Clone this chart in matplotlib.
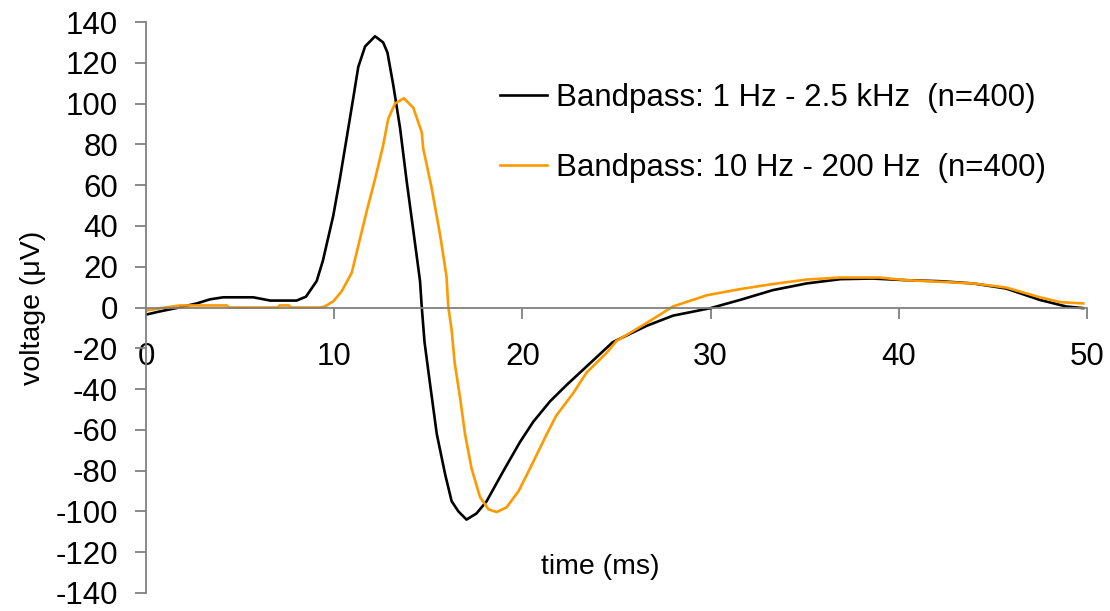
import matplotlib
matplotlib.use("Agg")
import matplotlib.pyplot as plt

plt.rcParams['font.family'] = ['Liberation Sans', 'DejaVu Sans']
plt.rcParams['axes.unicode_minus'] = False

# ── data ─────────────────────────────────────────────────────────────────────
t_wide = [0.0, 0.7, 1.6, 2.7, 3.4, 4.1, 5.7, 6.6, 8.0, 8.5, 9.07, 9.4, 9.95,
          10.3, 10.66, 11.0, 11.28, 11.64, 12.17, 12.6, 12.83, 13.14, 13.5,
          13.85, 14.2, 14.56, 14.65, 14.8, 15.1, 15.45, 15.9, 16.24, 16.6,
          17.03, 17.56, 18.1, 19.0, 19.87, 20.58, 21.47, 22.35, 23.4, 24.8,
          26.6, 28.0, 30.0, 31.56, 33.3, 35.1, 36.9, 38.6, 40.4, 42.2, 43.95,
          45.7, 47.5, 48.9, 49.8]
v_wide = [-3.5, -2, -0.3, 2, 4, 5, 5, 3.4, 3.4, 5.3, 13, 23, 45,
          63, 83, 102, 118, 128, 133, 130, 125, 109, 88,
          62, 38, 13, 0.5, -17, -38, -62, -82, -95, -100,
          -104, -101, -95, -80, -66, -56, -46, -38, -29, -17,
          -9, -4, -0.3, 3.7, 8.5, 11.8, 13.9, 14.2, 13.4, 12.9, 11.8,
          9.3, 3.7, 0.5, -0.3]

t_narrow = [0.0, 0.8, 1.8, 4.3, 4.4, 7.0, 7.1, 7.6, 7.7, 9.25, 9.5, 9.95,
            10.4, 10.93, 11.3, 11.72, 12.17, 12.6, 12.87, 13.23, 13.7, 14.2,
            14.65, 14.73, 15.17, 15.62, 15.97, 16.06, 16.24, 16.4, 16.7, 16.95,
            17.3, 17.75, 18.2, 18.63, 19.16, 19.8, 20.4, 21.3, 21.8, 22.7,
            23.4, 24.5, 25.0, 26.6, 28.0, 29.8, 31.56, 33.3, 35.1, 36.9,
            38.97, 40.4, 42.2, 43.95, 45.7, 47.5, 48.6, 49.8]
v_narrow = [-1.5, -0.3, 1, 1, 0, 0, 1, 1, 0, 0, 0.5, 3,
            8, 17, 31, 47, 63, 79.5, 92.5, 100, 102.6, 98,
            86, 78, 59, 36, 15, 0.5, -11, -27, -45, -62,
            -79, -93, -99, -100.3, -98, -90, -79, -62, -53, -42,
            -32, -22, -16.4, -7.6, 0.5, 6, 9, 11.5, 13.7, 14.7,
            14.7, 13.4, 12.6, 11.8, 9.8, 5, 2.6, 2]

labels = ["Bandpass: 1 Hz - 2.5 kHz  (n=400)",
          "Bandpass: 10 Hz - 200 Hz  (n=400)"]
x_ticks = [0, 10, 20, 30, 40, 50]
y_ticks = list(range(-140, 141, 20))

# ── figure ───────────────────────────────────────────────────────────────────
fig = plt.figure(figsize=(11.1, 6.11), dpi=100)
ax = fig.add_axes([146 / 1110, 18 / 611, 941 / 1110, 571 / 611])

ax.plot(t_wide, v_wide, color='black', lw=1.9, label=labels[0])
ax.plot(t_narrow, v_narrow, color='#FF9900', lw=1.9, label=labels[1])

ax.set_xlim(0, 50)
ax.set_ylim(-140, 140)
ax.set_xticks(x_ticks)
ax.set_yticks(y_ticks)

for s in ('top', 'right'):
    ax.spines[s].set_visible(False)
ax.spines['bottom'].set_position(('data', 0))
ax.spines['left'].set_position(('data', 0))
for s in ('bottom', 'left'):
    ax.spines[s].set_color('#808080')
    ax.spines[s].set_linewidth(1.3)
ax.set_zorder(1)

ax.tick_params(axis='both', direction='out', color='#808080', width=1.3,
               length=8, labelsize=22.5)
ax.tick_params(axis='x', pad=17)
ax.tick_params(axis='y', pad=12)

ax.set_xlabel("time (ms)", fontsize=20.5)
ax.xaxis.set_label_coords(0.4825, 0.068)
ax.set_ylabel("voltage (\u03bcV)", fontsize=20.5)
ax.yaxis.set_label_coords(-0.106, 0.5)

ax.legend(loc='upper left', bbox_to_anchor=(500 / 1110, 1 - 83 / 611),
          bbox_transform=fig.transFigure, frameon=False, fontsize=22.5,
          handlelength=1.5, handletextpad=0.3, labelspacing=1.27,
          borderpad=0, borderaxespad=0)

fig.savefig("out.png", dpi=100)
